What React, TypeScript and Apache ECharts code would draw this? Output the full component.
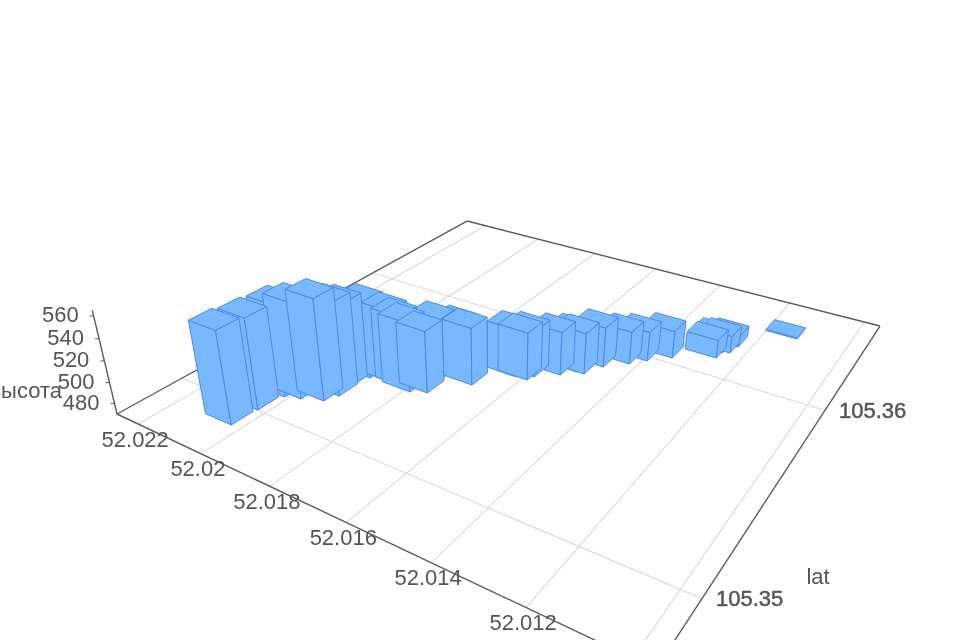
import React, { useEffect, useRef } from "react";
import * as echarts from "echarts";

const barLat = [52.02068,52.02063,52.02051,52.02014,52.01965,52.0195,52.01954,52.01942,52.01882,52.01852,52.01825,52.01789,52.01798,52.01773,52.01723,52.01656,52.01627,52.0162,52.01573,52.01546,52.01528,52.01505,52.01459,52.01429,52.01384,52.01294,52.01291,52.01275,52.01269,52.01159];
const barLon = [105.34941,105.35048,105.35152,105.35172,105.35204,105.35254,105.3531,105.35397,105.35415,105.35413,105.35402,105.35428,105.35517,105.35595,105.3555,105.35675,105.35679,105.3571,105.35768,105.35817,105.35819,105.35896,105.35964,105.36017,105.36084,105.36169,105.36214,105.36229,105.36286,105.36461];
const barHeight = [556,555,556,560,565,557,550,543,539,537,536,529,528,518,525,516,516,515,512,509,510,509,502,499,497,488,487,487,481,471];
const latTicks = [52.022,52.02,52.018,52.016,52.014,52.012,52.01];
const lonTicks = [105.35,105.36];
const heightTicks = [480,500,520,540,560];
const heightTickLabels = ["480","500","520","540","560"];
const latTickLabels = ["52.022","52.02","52.018","52.016","52.014","52.012"];
const lonTickLabels = ["105.35","105.36"];

const LAT0 = 52.02272, LAT_SPAN = -0.01312, LON0 = 105.34738, LON_SPAN = 0.01944, Z0 = 470, Z_TOP = 565;
const DLAT = 0.00082, DLON = 0.00093;
const M = { a: 345.5, b: 567.2, c: 117, d: 57.7, e: -90.2, f: 414, g: -0.29496, h: 0.46506, k: -0.000647, vx: 495, vy: 2000 };

function project(lat: number, lon: number, z: number): [number, number] {
  const p = (lat - LAT0) / LAT_SPAN, q = (lon - LON0) / LON_SPAN, K = M.k * (z - Z0);
  const W = M.g * p + M.h * q + 1 + K;
  return [(M.a * p + M.b * q + M.c + M.vx * K) / W, (M.d * p + M.e * q + M.f + M.vy * K) / W];
}
function depth(lat: number, lon: number) {
  return M.g * (lat - LAT0) / LAT_SPAN + M.h * (lon - LON0) / LON_SPAN;
}
const LAT_END = LAT0 + LAT_SPAN, LON_END = LON0 + LON_SPAN;
const FILL = "#78b8ff", EDGE = "#4a8ae6", AXIS = "#5c5c5c", GRID = "#dddddd", TEXT = "#555555";
const FONT = '22px "Liberation Sans", Arial, sans-serif';

export default function App() {
  const ref = useRef<HTMLDivElement>(null);
  useEffect(() => {
    document.body.style.margin = "0";
    const chart = echarts.init(ref.current!, undefined, { renderer: "svg" });
    const order = barLat.map((_, i) => i).sort((x, y) => depth(barLat[y], barLon[y]) - depth(barLat[x], barLon[x]));
    const seg = (p1: [number, number], p2: [number, number], color: string, w: number) => ({
      type: "line", shape: { x1: p1[0], y1: p1[1], x2: p2[0], y2: p2[1] }, style: { stroke: color, lineWidth: w },
    });
    const gridLines = [
      ...latTicks.map((v) => seg(project(v, LON0, Z0), project(v, LON_END, Z0), GRID, 1.2)),
      ...lonTicks.map((v) => seg(project(LAT0, v, Z0), project(LAT_END, v, Z0), GRID, 1.2)),
    ];
    const axisLines = [
      seg(project(LAT0, LON0, Z0), project(LAT0, LON_END, Z0), AXIS, 1.4),
      seg(project(LAT0, LON_END, Z0), project(LAT_END, LON_END, Z0), AXIS, 1.4),
      seg(project(LAT_END, LON_END, Z0), project(LAT_END, LON0, Z0), AXIS, 1.4),
      seg(project(LAT_END, LON0, Z0), project(LAT0, LON0, Z0), AXIS, 1.4),
      seg(project(LAT0, LON0, Z0), project(LAT0, LON0, Z_TOP), AXIS, 1.4),
      ...heightTicks.map((v) => {
        const t = project(LAT0, LON0, v);
        return seg(t, [t[0] - 4, t[1]], AXIS, 1);
      }),
    ];
    const text = (s: string, x: number, y: number, align: string, bold = false) => ({
      type: "text", z: 5,
      style: { text: s, x, y, fill: TEXT, font: FONT, align, verticalAlign: "middle", ...(bold ? { stroke: TEXT, lineWidth: 0.5 } : {}) },
    });
    const labels = [
      ...latTickLabels.map((s, i) => {
        const t = project(latTicks[i], LON0, Z0);
        return text(s, t[0] - 3, t[1] + 15, "center");
      }),
      ...lonTickLabels.map((s, i) => {
        const t = project(LAT_END, lonTicks[i], Z0);
        return text(s, t[0] + 14, t[1], "left", true);
      }),
      ...heightTickLabels.map((s, i) => {
        const t = project(LAT0, LON0, heightTicks[i]);
        return text(s, t[0] - 15, t[1] - 1, "right");
      }),
      text("высота", 62, 390, "right"),
      text("lat", 818, 576, "center"),
    ];
    chart.setOption({
      animation: false,
      graphic: [...gridLines.map((g) => ({ ...g, z: 0 })), ...axisLines.map((g) => ({ ...g, z: 1 })), ...labels],
      series: [
        {
          type: "custom", coordinateSystem: "none", z: 3, silent: true, clip: false,
          data: order.map((i) => [barLat[i], barLon[i], barHeight[i]]),
          renderItem: (_: any, api: any) => {
            const lat = api.value(0), lon = api.value(1), top = api.value(2);
            const la0 = lat + DLAT / 2, la1 = lat - DLAT / 2, lo0 = lon - DLON / 2, lo1 = lon + DLON / 2;
            const fT = project(la1, lo0, top), lT = project(la0, lo0, top), rT = project(la1, lo1, top), bT = project(la0, lo1, top);
            const fB = project(la1, lo0, Z0), lB = project(la0, lo0, Z0), rB = project(la1, lo1, Z0);
            const style = { fill: FILL, stroke: EDGE, lineWidth: 1, lineJoin: "round" };
            return {
              type: "group",
              children: [
                { type: "polygon", shape: { points: [lT, fT, fB, lB] }, style },
                { type: "polygon", shape: { points: [fT, rT, rB, fB] }, style },
                { type: "polygon", shape: { points: [lT, bT, rT, fT] }, style },
              ],
            };
          },
        },
      ],
    });
    return () => chart.dispose();
  }, []);
  return <div ref={ref} style={{ width: 960, height: 640, filter: "blur(0.5px)" }} />;
}
